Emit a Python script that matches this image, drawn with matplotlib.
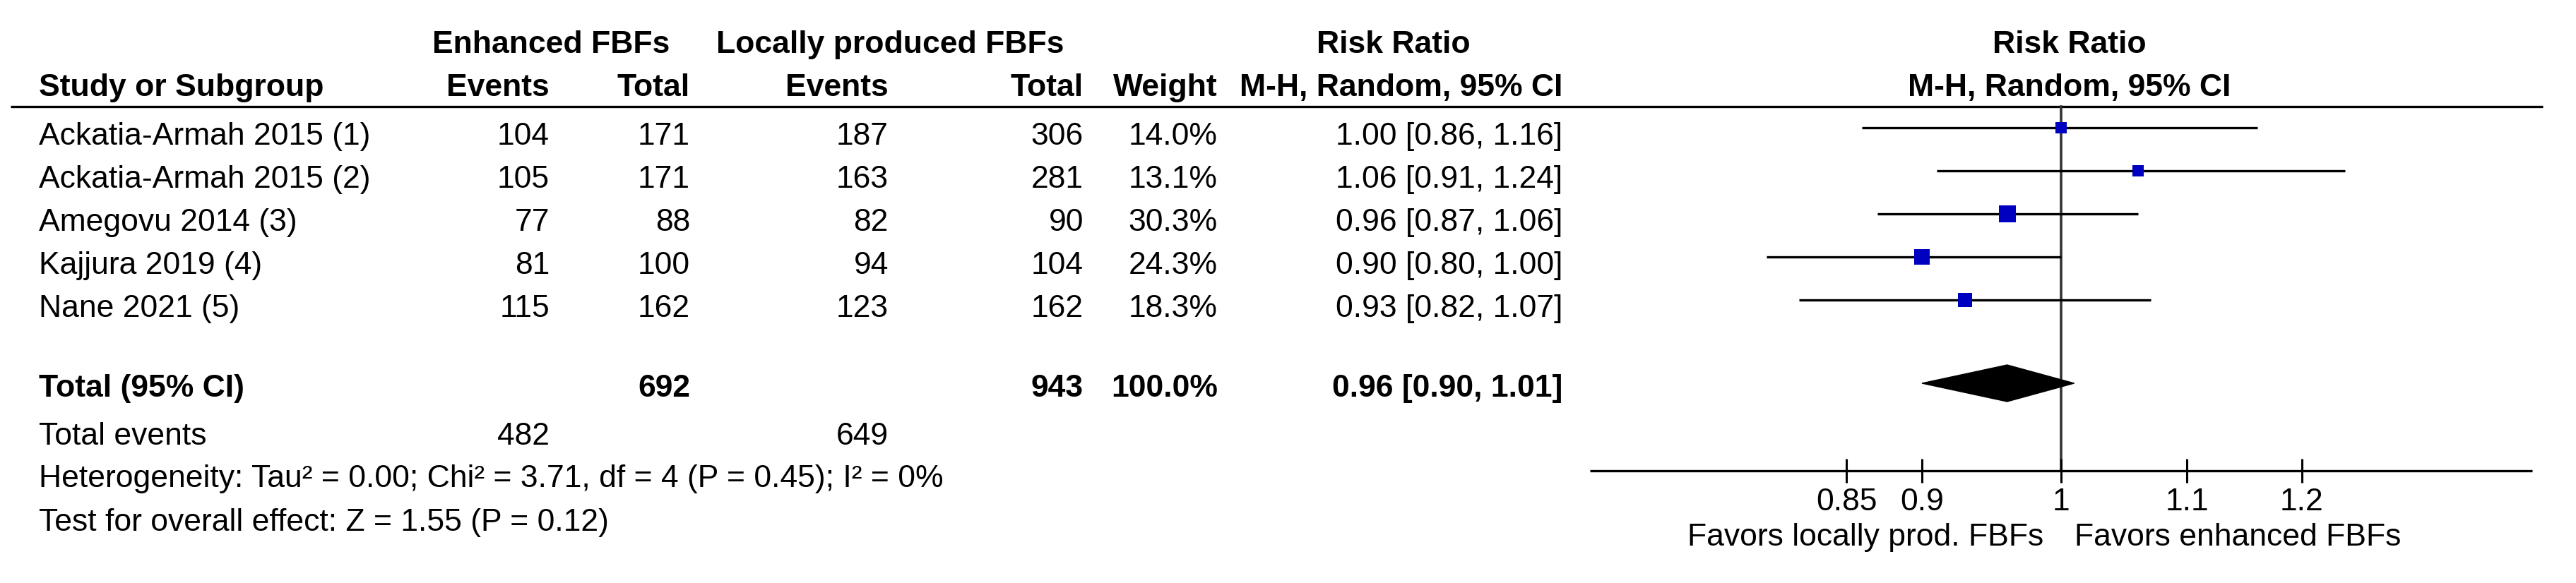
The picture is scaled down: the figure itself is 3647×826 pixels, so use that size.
import numpy as np
import matplotlib
matplotlib.use("Agg")
import matplotlib.pyplot as plt
from matplotlib.patches import Polygon

# ---------------- data ----------------
studies = ["Ackatia-Armah 2015 (1)", "Ackatia-Armah 2015 (2)", "Amegovu 2014 (3)",
           "Kajjura 2019 (4)", "Nane 2021 (5)"]
enh_events = [104, 105, 77, 81, 115]
enh_total = [171, 171, 88, 100, 162]
loc_events = [187, 163, 82, 94, 123]
loc_total = [306, 281, 90, 104, 162]
weights = [14.0, 13.1, 30.3, 24.3, 18.3]
rr = [1.00, 1.06, 0.96, 0.90, 0.93]
ci_low = [0.86, 0.91, 0.87, 0.80, 0.82]
ci_high = [1.16, 1.24, 1.06, 1.00, 1.07]
total_enh, total_loc = 692, 943
events_enh_sum, events_loc_sum = 482, 649
total_rr, total_low, total_high = 0.96, 0.90, 1.01
tick_vals = [0.85, 0.9, 1, 1.1, 1.2]
tick_labels = ["0.85", "0.9", "1", "1.1", "1.2"]
heterogeneity = "Heterogeneity: Tau\u00b2 = 0.00; Chi\u00b2 = 3.71, df = 4 (P = 0.45); I\u00b2 = 0%"
overall = "Test for overall effect: Z = 1.55 (P = 0.12)"

# ---------------- layout ----------------
W, H = 3648, 826
DPI = 100
plt.rcParams['font.family'] = ['Liberation Sans', 'DejaVu Sans']
FS = 32

fig = plt.figure(figsize=(W / DPI, H / DPI), dpi=DPI)
fig.patch.set_facecolor('white')
ax = fig.add_axes([0, 0, 1, 1])
ax.set_xlim(0, W)
ax.set_ylim(H, 0)
ax.axis('off')

x_label = 55
x_ev_e, x_tot_e = 778, 977
x_ev_c, x_tot_c = 1258, 1534
x_w, x_ci = 1724, 2212
x_plot_c = 2930

def t(x, y, s, ha='left', bold=False, **kw):
    ax.text(x, y, s, ha=ha, va='baseline', fontsize=FS,
            fontweight='bold' if bold else 'normal', color='black', **kw)

# headers
t(780, 75, "Enhanced FBFs", ha='center', bold=True)
t(1260, 75, "Locally produced FBFs", ha='center', bold=True)
t(1973, 75, "Risk Ratio", ha='center', bold=True)
t(x_plot_c, 75, "Risk Ratio", ha='center', bold=True)
t(x_label, 136, "Study or Subgroup", bold=True)
t(x_ev_e, 136, "Events", ha='right', bold=True)
t(x_tot_e, 136, "Total", ha='right', bold=True)
t(x_ev_c, 136, "Events", ha='right', bold=True)
t(x_tot_c, 136, "Total", ha='right', bold=True)
t(x_w, 136, "Weight", ha='right', bold=True)
t(x_ci, 136, "M-H, Random, 95% CI", ha='right', bold=True)
t(x_plot_c, 136, "M-H, Random, 95% CI", ha='center', bold=True)

ax.plot([15, 3600], [151, 151], color='black', lw=2.4, solid_capstyle='butt')

row_base = [205 + 61 * i for i in range(len(studies))]
for i, s in enumerate(studies):
    y = row_base[i]
    t(x_label, y, s)
    t(x_ev_e, y, str(enh_events[i]), ha='right')
    t(x_tot_e, y, str(enh_total[i]), ha='right')
    t(x_ev_c, y, str(loc_events[i]), ha='right')
    t(x_tot_c, y, str(loc_total[i]), ha='right')
    t(x_w, y, f"{weights[i]:.1f}%", ha='right')
    t(x_ci, y, f"{rr[i]:.2f} [{ci_low[i]:.2f}, {ci_high[i]:.2f}]", ha='right')

y_tot = 562
t(x_label, y_tot, "Total (95% CI)", bold=True)
t(x_tot_e, y_tot, str(total_enh), ha='right', bold=True)
t(x_tot_c, y_tot, str(total_loc), ha='right', bold=True)
t(x_w, y_tot, f"{sum(weights):.1f}%", ha='right', bold=True)
t(x_ci, y_tot, f"{total_rr:.2f} [{total_low:.2f}, {total_high:.2f}]", ha='right', bold=True)
t(x_label, 630, "Total events")
t(x_ev_e, 630, str(events_enh_sum), ha='right')
t(x_ev_c, 630, str(events_loc_sum), ha='right')
t(x_label, 690, heterogeneity)
t(x_label, 752, overall)

# ---------------- forest plot ----------------
px0, px1 = 2251, 3585
fx = fig.add_axes([px0 / W, 0, (px1 - px0) / W, 1])
fx.set_facecolor('none')
fx.set_xscale('log')
fx.set_xlim(0.7, 1 / 0.7)
fx.set_ylim(H, 0)
for sp in ['top', 'left', 'right']:
    fx.spines[sp].set_visible(False)
y_axis = 667
fx.spines['bottom'].set_position(('data', y_axis))
fx.spines['bottom'].set_linewidth(2.4)
fx.spines['bottom'].set_capstyle('butt')
fx.set_yticks([])
fx.xaxis.set_minor_locator(matplotlib.ticker.NullLocator())
fx.set_xticks(tick_vals)
fx.set_xticklabels(tick_labels)
fx.tick_params(axis='x', which='major', direction='inout', length=24, width=2.2,
               pad=5, labelsize=FS, colors='black')

# vertical line of no effect
fx.plot([1, 1], [151, y_axis], color='#333333', lw=2.6, zorder=1)

for i in range(len(studies)):
    yc = row_base[i] - 24
    fx.plot([ci_low[i], ci_high[i]], [yc, yc], color='black', lw=2.4,
            solid_capstyle='butt', zorder=2)
    side_px = 4.5 * np.sqrt(weights[i])
    fx.plot([rr[i]], [yc], marker='s', color='#0000C0', markersize=side_px * 0.72,
            markeredgewidth=0, linestyle='none', zorder=3)

yd = y_tot - 19
dh = 26
diamond = Polygon([(total_low, yd), (total_rr, yd - dh), (total_high, yd),
                   (total_rr, yd + dh)], closed=True, facecolor='black',
                  edgecolor='black', lw=1, zorder=3)
fx.add_patch(diamond)

fx.text(0.987, 773, "Favors locally prod. FBFs", ha='right', va='baseline',
        fontsize=FS, color='black')
fx.text(1.0101, 773, "Favors enhanced FBFs", ha='left', va='baseline',
        fontsize=FS, color='black')

fig.savefig("out.png", dpi=DPI, facecolor='white')
